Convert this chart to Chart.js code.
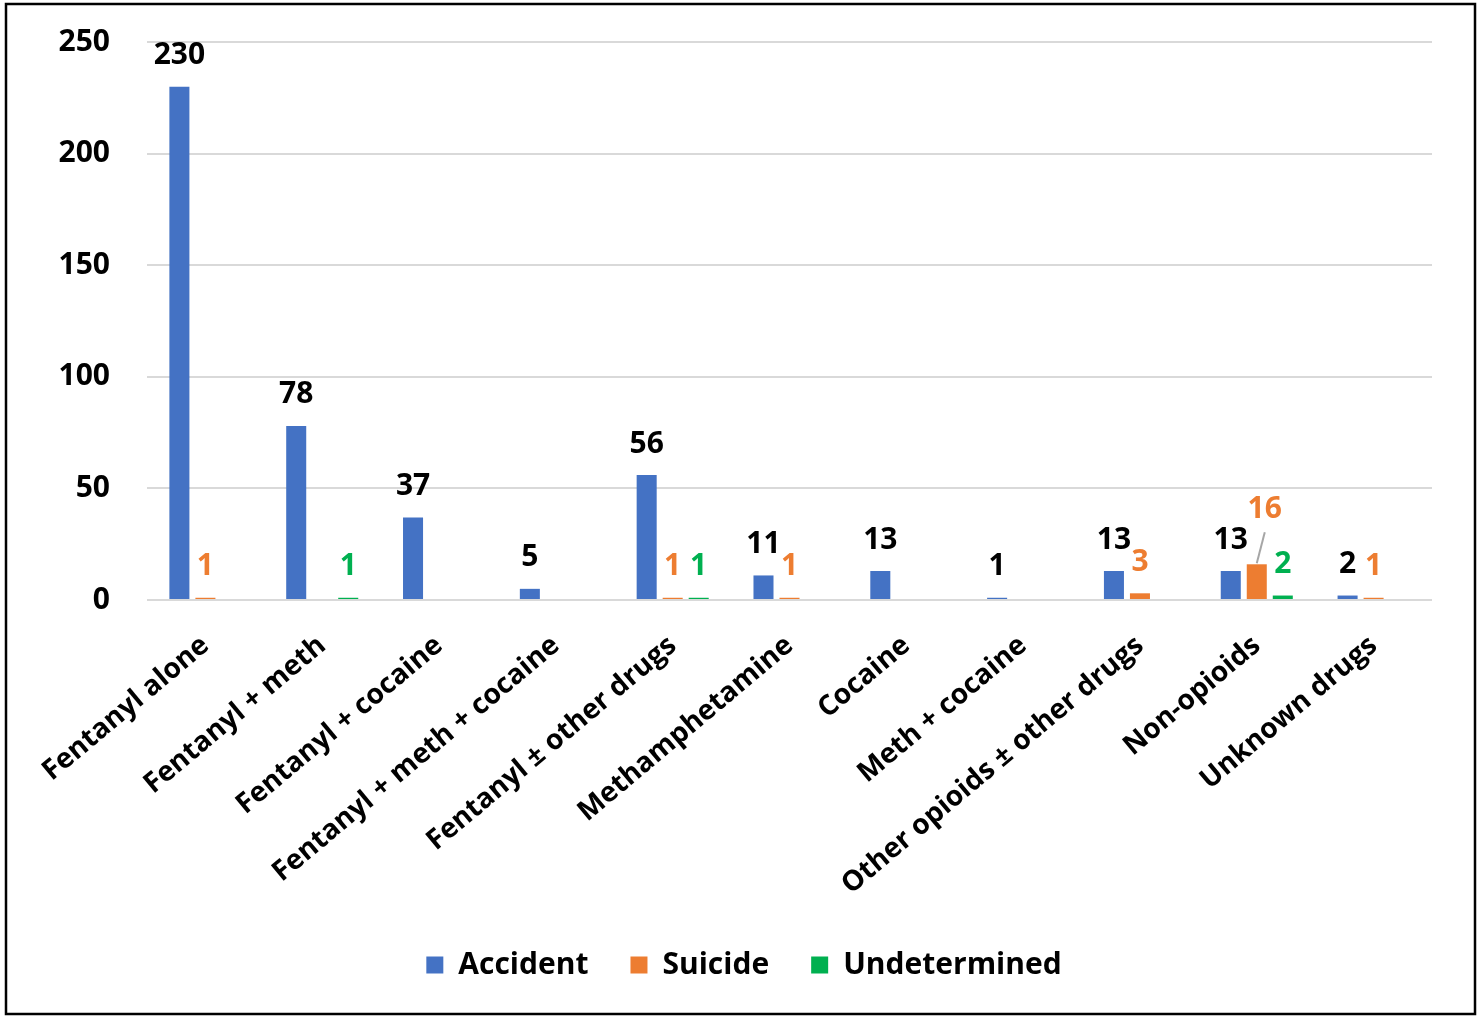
<!DOCTYPE html>
<html>
<head>
<meta charset="utf-8">
<script src="https://cdn.jsdelivr.net/npm/chart.js@4.4.1/dist/chart.umd.min.js"></script>
<style>
  html, body { margin: 0; padding: 0; background: #ffffff; }
  #wrap { position: absolute; left: 0; top: 0; width: 1481px; height: 1017px; }
</style>
</head>
<body>
<div id="wrap"><canvas id="chart" width="1481" height="1017"></canvas></div>
<script>
// Deaths by drug combination and manner of death
const categories = [
  'Fentanyl alone',
  'Fentanyl + meth',
  'Fentanyl + cocaine',
  'Fentanyl + meth + cocaine',
  'Fentanyl \u00b1 other drugs',
  'Methamphetamine',
  'Cocaine',
  'Meth + cocaine',
  'Other opioids \u00b1 other drugs',
  'Non-opioids',
  'Unknown drugs'
];
const accident     = [230, 78, 37, 5, 56, 11, 13, 1, 13, 13, 2];
const suicide      = [1, 0, 0, 0, 1, 1, 0, 0, 3, 16, 1];
const undetermined = [0, 1, 0, 0, 1, 0, 0, 0, 0, 2, 0];
const yTicks = [0, 50, 100, 150, 200, 250];

const FONT = "'Open Sans', 'DejaVu Sans', sans-serif";
const labelColors = ['#000000', '#ED7D31', '#00B050'];

// Outer frame around the whole figure
const framePlugin = {
  id: 'frame',
  beforeDraw(chart) {
    const ctx = chart.ctx;
    ctx.save();
    ctx.fillStyle = '#ffffff';
    ctx.fillRect(0, 0, chart.width, chart.height);
    ctx.strokeStyle = '#000000';
    ctx.lineWidth = 2.5;
    ctx.strokeRect(6, 4, 1469, 1010);
    ctx.restore();
  }
};

// Value labels above each non-zero bar
const valueLabels = {
  id: 'valueLabels',
  afterDatasetsDraw(chart) {
    const ctx = chart.ctx;
    ctx.save();
    ctx.font = 'bold 30px ' + FONT;
    ctx.textAlign = 'center';
    ctx.textBaseline = 'middle';
    chart.data.datasets.forEach((ds, di) => {
      const meta = chart.getDatasetMeta(di);
      meta.data.forEach((bar, i) => {
        const v = ds.data[i];
        if (!v) return;
        let x = bar.x;
        let y = bar.y - 31;
        // the tall suicide bar among non-opioids gets a lifted label with a leader
        if (di === 1 && categories[i] === 'Non-opioids') {
          x = bar.x + 8;
          y = bar.y - 55;
          ctx.strokeStyle = '#a6a6a6';
          ctx.lineWidth = 2;
          ctx.beginPath();
          ctx.moveTo(bar.x, bar.y - 1);
          ctx.lineTo(bar.x + 8, bar.y - 32);
          ctx.stroke();
        }
        ctx.fillStyle = labelColors[di];
        ctx.fillText(String(v), x, y);
      });
    });
    ctx.restore();
  }
};

new Chart(document.getElementById('chart'), {
  type: 'bar',
  data: {
    labels: categories,
    datasets: [
      { label: 'Accident', data: accident, backgroundColor: '#4472C4' },
      { label: 'Suicide', data: suicide, backgroundColor: '#ED7D31' },
      { label: 'Undetermined', data: undetermined, backgroundColor: '#00B050' }
    ]
  },
  options: {
    responsive: false,
    animation: false,
    devicePixelRatio: 1,
    categoryPercentage: 0.668,
    barPercentage: 0.77,
    layout: { padding: { top: 42, right: 49, left: 56, bottom: 27 } },
    plugins: {
      legend: {
        position: 'bottom',
        labels: {
          boxWidth: 17,
          boxHeight: 17,
          padding: 42,
          color: '#000000',
          font: { family: FONT, size: 30, weight: 'bold' }
        }
      },
      tooltip: { enabled: false }
    },
    scales: {
      x: {
        grid: { display: false, drawTicks: false },
        border: { display: false },
        afterFit(scale) { scale.height = 308; },
        ticks: {
          autoSkip: false,
          minRotation: 40,
          maxRotation: 40,
          padding: 29,
          color: '#000000',
          font: { family: FONT, size: 28, weight: 'bold' }
        }
      },
      y: {
        min: 0,
        max: 250,
        afterFit(scale) {
          scale.width = 91;
          scale.paddingTop = 0;
          scale.paddingBottom = 0;
        },
        afterBuildTicks(scale) { scale.ticks = yTicks.map(v => ({ value: v })); },
        grid: { color: '#d9d9d9', lineWidth: 2, drawTicks: false },
        border: { display: false },
        ticks: {
          padding: 37,
          color: '#000000',
          font: { family: FONT, size: 30, weight: 'bold' }
        }
      }
    }
  },
  plugins: [framePlugin, valueLabels]
});
</script>
</body>
</html>
